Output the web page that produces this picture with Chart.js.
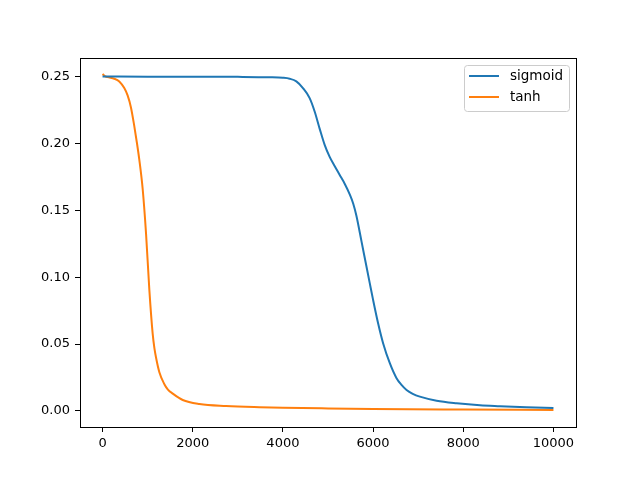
<!DOCTYPE html>
<html>
<head>
<meta charset="utf-8">
<script src="https://cdn.jsdelivr.net/npm/chart.js@4"></script>
<style>
  html, body { margin: 0; padding: 0; background: #fff; }
  #wrap { width: 640px; height: 480px; }
</style>
</head>
<body>
<div id="wrap"><canvas id="lossChart" width="640" height="480"></canvas></div>
<script>
// 数据
const seriesNames = ['sigmoid', 'tanh'];
const seriesColors = ['#1f77b4', '#ff7f0e'];

const sigmoidX = [0, 1000, 2000, 3000, 3704, 4000, 4149, 4298, 4444, 4593, 4704, 4816, 4926, 5037, 5150, 5260, 5370, 5482, 5560, 5630, 5742, 5853, 5926, 6000, 6111, 6222, 6371, 6520, 6630, 6742, 6880, 7037, 7409, 7853, 8371, 8815, 9400, 10000];
const sigmoidY = [0.2502, 0.2500, 0.2500, 0.2499, 0.2496, 0.2492, 0.2485, 0.2465, 0.2415, 0.2340, 0.2240, 0.2110, 0.1990, 0.1900, 0.1830, 0.1765, 0.1700, 0.1620, 0.1550, 0.1460, 0.1270, 0.1080, 0.0956, 0.0831, 0.0656, 0.0507, 0.0357, 0.0245, 0.0195, 0.0157, 0.0128, 0.0107, 0.0077, 0.0058, 0.0043, 0.0036, 0.0028, 0.0022];

const tanhX = [0, 50, 111, 260, 371, 482, 556, 630, 704, 760, 815, 890, 964, 1038, 1111, 1150, 1186, 1260, 1371, 1450, 1556, 1778, 2148, 2741, 3482, 4000, 5000, 6000, 8000, 10000];
const tanhY = [0.2520, 0.2505, 0.2497, 0.2485, 0.2465, 0.2415, 0.2360, 0.2270, 0.2130, 0.2010, 0.1880, 0.1660, 0.1330, 0.0906, 0.0580, 0.0470, 0.0400, 0.0290, 0.0200, 0.0160, 0.0130, 0.0082, 0.0052, 0.0037, 0.0028, 0.0024, 0.0019, 0.0015, 0.0011, 0.0008];

const xTicks = [0, 2000, 4000, 6000, 8000, 10000];
const yTicks = [0.00, 0.05, 0.10, 0.15, 0.20, 0.25];

const toPoints = (xs, ys) => xs.map((x, i) => ({ x: x, y: ys[i] }));

const tickFont = { family: 'DejaVu Sans', size: 13 };

// 边框和图例（matplotlib 风格）
const framePlugin = {
    id: 'frame',
    afterDatasetsDraw(chart) {
        const { ctx, chartArea: a } = chart;
        ctx.save();
        ctx.strokeStyle = '#000';
        ctx.lineWidth = 1;
        ctx.strokeRect(a.left + 0.5, a.top + 0.5, a.right - a.left, a.bottom - a.top);

        // 图例
        const bx = 464.5, by = 65.5, bw = 105, bh = 46;
        ctx.fillStyle = 'rgba(255,255,255,0.8)';
        ctx.strokeStyle = '#cccccc';
        ctx.beginPath();
        ctx.roundRect(bx, by, bw, bh, 3);
        ctx.fill();
        ctx.stroke();
        ctx.font = '13.5px "DejaVu Sans"';
        ctx.textBaseline = 'middle';
        chart.data.datasets.forEach((ds, i) => {
            const y = 76 + i * 21;
            ctx.strokeStyle = ds.borderColor;
            ctx.lineWidth = 2;
            ctx.beginPath();
            ctx.moveTo(469, y);
            ctx.lineTo(499, y);
            ctx.stroke();
            ctx.fillStyle = '#000';
            ctx.fillText(ds.label, 510, y);
        });
        ctx.restore();
    }
};

const ctx = document.getElementById('lossChart').getContext('2d');
const lossChart = new Chart(ctx, {
    type: 'line',
    data: {
        datasets: [{
            label: seriesNames[0],
            data: toPoints(sigmoidX, sigmoidY),
            borderColor: seriesColors[0],
            borderWidth: 2,
            pointRadius: 0,
            cubicInterpolationMode: 'monotone',
            fill: false
        }, {
            label: seriesNames[1],
            data: toPoints(tanhX, tanhY),
            borderColor: seriesColors[1],
            borderWidth: 2,
            pointRadius: 0,
            cubicInterpolationMode: 'monotone',
            fill: false
        }]
    },
    options: {
        responsive: false,
        animation: false,
        events: [],
        layout: {
            padding: { left: 0, right: 64, top: 58, bottom: 0 }
        },
        plugins: {
            legend: { display: false },
            tooltip: { enabled: false }
        },
        scales: {
            x: {
                type: 'linear',
                min: -500,
                max: 10500,
                afterBuildTicks: axis => {
                    axis.ticks = xTicks.map(v => ({ value: v }));
                },
                afterFit: axis => { axis.height = 53; },
                grid: {
                    drawOnChartArea: false,
                    drawTicks: true,
                    tickLength: 5,
                    color: '#000'
                },
                border: { display: true, color: '#000' },
                ticks: {
                    color: '#000',
                    font: tickFont,
                    padding: 4,
                    maxRotation: 0,
                    callback: v => String(v)
                }
            },
            y: {
                type: 'linear',
                min: -0.012,
                max: 0.264,
                afterBuildTicks: axis => {
                    axis.ticks = yTicks.map(v => ({ value: v }));
                },
                afterFit: axis => { axis.width = 80; },
                grid: {
                    drawOnChartArea: false,
                    drawTicks: true,
                    tickLength: 5,
                    color: '#000'
                },
                border: { display: true, color: '#000' },
                ticks: {
                    color: '#000',
                    font: tickFont,
                    padding: 5,
                    callback: v => v.toFixed(2)
                }
            }
        }
    },
    plugins: [framePlugin]
});
</script>
</body>
</html>
